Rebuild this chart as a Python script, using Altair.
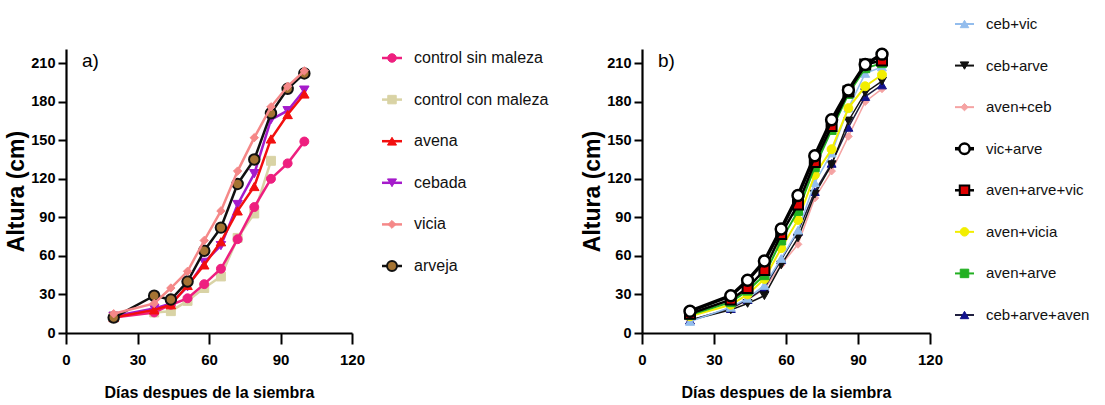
import altair as alt
import pandas as pd

# Days after sowing at which plant height was measured
days = [20, 37, 44, 51, 58, 65, 72, 79, 86, 93, 100]

# a) single crops and controls, height in cm
control_sin_maleza = [12, 16, 22, 27, 38, 50, 73, 98, 120, 132, 149]
control_con_maleza = [13, 16, 17, 25, 35, 44, 74, 93, 134]
avena = [12, 18, 22, 37, 53, 71, 95, 114, 151, 170, 186]
cebada = [13, 19, 23, 36, 55, 68, 100, 124, 166, 173, 189]
vicia = [15, 23, 35, 48, 72, 95, 126, 152, 176, 192, 204]
arveja = [12, 29, 26, 40, 64, 82, 116, 135, 171, 190, 202]

# b) crop mixtures, height in cm
ceb_vic = [9, 20, 27, 37, 58, 80, 117, 140, 175, 202, 207]
ceb_arve = [10, 18, 23, 29, 53, 74, 108, 131, 165, 187, 196]
aven_ceb = [10, 19, 26, 34, 53, 69, 105, 126, 153, 180, 190]
vic_arve = [17, 29, 41, 56, 81, 107, 138, 166, 189, 209, 217]
aven_arve_vic = [15, 26, 35, 49, 77, 100, 133, 161, 188, 209, 212]
aven_vicia = [13, 22, 30, 42, 66, 88, 123, 143, 175, 192, 201]
aven_arve = [14, 24, 33, 45, 72, 95, 129, 158, 186, 206, 210]
ceb_arve_aven = [10, 19, 26, 35, 57, 79, 110, 132, 160, 184, 193]

x_ticks = [0, 30, 60, 90, 120]
y_ticks = [0, 30, 60, 90, 120, 150, 180, 210]

FONT = "'Liberation Sans', Arial, sans-serif"

# name -> (values, line colour, line width, shape, fill, edge colour, edge width, size)
series_a = {
    "control sin maleza": (control_sin_maleza, "#EE1F7F", 2.5, "circle", "#EE1F7F", "#EE1F7F", 1, 80),
    "control con maleza": (control_con_maleza, "#D9D3A5", 2.5, "square", "#D9D3A5", "#D9D3A5", 1, 80),
    "avena": (avena, "#F20F0F", 2.5, "triangle-up", "#F20F0F", "#F20F0F", 1, 90),
    "cebada": (cebada, "#A51BCB", 2.5, "triangle-down", "#A51BCB", "#A51BCB", 1, 90),
    "vicia": (vicia, "#F58888", 2.5, "diamond", "#F58888", "#F58888", 1, 70),
    "arveja": (arveja, "#111111", 2.5, "circle", "#A57433", "#111111", 2, 110),
}
draw_a = ["control con maleza", "control sin maleza", "cebada", "avena", "arveja", "vicia"]

series_b = {
    "ceb+vic": (ceb_vic, "#93BDED", 1.5, "triangle-up", "#93BDED", "#93BDED", 1, 80),
    "ceb+arve": (ceb_arve, "#111111", 1.5, "triangle-down", "#111111", "#111111", 1, 80),
    "aven+ceb": (aven_ceb, "#F5A3A3", 1.5, "diamond", "#F5A3A3", "#F5A3A3", 1, 60),
    "vic+arve": (vic_arve, "#000000", 3.5, "circle", "#FFFFFF", "#000000", 2.5, 120),
    "aven+arve+vic": (aven_arve_vic, "#000000", 2.5, "square", "#E00000", "#000000", 2, 100),
    "aven+vicia": (aven_vicia, "#F2EE00", 2, "circle", "#F2EE00", "#F2EE00", 1, 80),
    "aven+arve": (aven_arve, "#22B022", 2, "square", "#22B022", "#22B022", 1, 80),
    "ceb+arve+aven": (ceb_arve_aven, "#202040", 1.5, "triangle-up", "#12128C", "#12128C", 1, 80),
}
draw_b = ["aven+ceb", "ceb+arve+aven", "ceb+arve", "ceb+vic", "aven+vicia",
          "aven+arve", "aven+arve+vic", "vic+arve"]

x_scale = alt.Scale(domain=[0, 120], nice=False, zero=False)
y_scale = alt.Scale(domain=[0, 221], nice=False)

x_axis = alt.Axis(
    values=x_ticks, title="Días despues de la siembra", grid=False,
    domainColor="black", domainWidth=2.2, tickColor="black", tickWidth=2, tickSize=11,
    labelFont=FONT, labelFontSize=15, labelFontWeight="bold", labelColor="black",
    labelPadding=8, labelFlush=False,
    titleFont=FONT, titleFontSize=16, titleFontWeight="bold", titleColor="black",
    titlePadding=17,
)
y_axis = alt.Axis(
    values=y_ticks, title="Altura (cm)", grid=False,
    domainColor="black", domainWidth=2.2, tickColor="black", tickWidth=2, tickSize=8,
    labelFont=FONT, labelFontSize=14.5, labelFontWeight="bold", labelColor="black",
    labelPadding=3, labelFlush=False,
    titleFont=FONT, titleFontSize=23, titleFontWeight="bold", titleColor="black",
    titlePadding=2,
)


def series_layer(name, spec):
    values, lcol, lw, shape, fill, edge, ew, size = spec
    df = pd.DataFrame({"dia": days[: len(values)], "altura": values, "serie": name})
    base = alt.Chart(df).encode(
        x=alt.X("dia:Q", scale=x_scale, axis=x_axis),
        y=alt.Y("altura:Q", scale=y_scale, axis=y_axis),
    )
    line = base.mark_line(color=lcol, strokeWidth=lw)
    pts = base.mark_point(shape=shape, filled=True, fill=fill, stroke=edge,
                          strokeWidth=ew, size=size, opacity=1)
    return [line, pts]


def panel(series, order, tag, width):
    layers = []
    for name in order:
        layers += series_layer(name, series[name])
    label = alt.Chart(pd.DataFrame({"t": [tag]})).mark_text(
        font=FONT, fontSize=19, align="left", baseline="middle", color="black"
    ).encode(x=alt.value(16), y=alt.value(12), text="t:N")
    layers.append(label)
    return alt.layer(*layers).properties(width=width, height=284)


def legend(series, width, row_range, x_line, x_mark, x_text, font_size):
    names = list(series.keys())
    y = alt.Y("serie:N", axis=None,
              scale=alt.Scale(type="point", domain=names, range=row_range, padding=0))
    layers = []
    for name in names:
        _, lcol, lw, shape, fill, edge, ew, size = series[name]
        row = alt.Chart(pd.DataFrame({"serie": [name]}))
        layers.append(row.mark_rule(color=lcol, strokeWidth=max(lw, 2)).encode(
            x=alt.value(x_line[0]), x2=alt.value(x_line[1]), y=y))
        layers.append(row.mark_point(shape=shape, filled=True, fill=fill, stroke=edge,
                                     strokeWidth=ew, size=size * 0.9, opacity=1).encode(
            x=alt.value(x_mark), y=y))
        layers.append(row.mark_text(align="left", baseline="middle", font=FONT,
                                    fontSize=font_size, color="#111111").encode(
            x=alt.value(x_text), y=y, text="serie:N"))
    return alt.layer(*layers).properties(width=width, height=284)


plot_a = panel(series_a, draw_a, "a)", 286)
leg_a = legend(series_a, 290, [9, 217], (30, 50), 40, 62, 16)
plot_b = panel(series_b, draw_b, "b)", 288)
leg_b = legend(series_b, 174, [-25, 266], (25, 44), 34.5, 56, 15)

chart = (
    alt.hconcat(plot_a, leg_a, plot_b, leg_b, spacing=0, bounds="flush")
    .properties(padding={"left": 5, "top": 17, "right": 0, "bottom": 0}, background="white")
    .configure_view(stroke=None)
)

chart.save("out.html", embed_options={"renderer": "svg", "actions": False})
